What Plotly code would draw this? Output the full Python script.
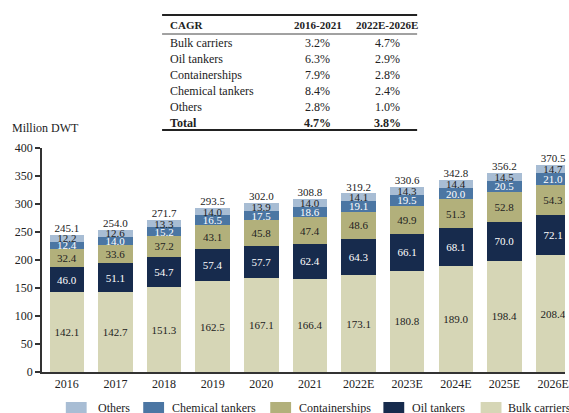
import plotly.graph_objects as go

years = ["2016", "2017", "2018", "2019", "2020", "2021", "2022E", "2023E", "2024E", "2025E", "2026E"]
bulk = [142.1, 142.7, 151.3, 162.5, 167.1, 166.4, 173.1, 180.8, 189.0, 198.4, 208.4]
oil = [46.0, 51.1, 54.7, 57.4, 57.7, 62.4, 64.3, 66.1, 68.1, 70.0, 72.1]
container = [32.4, 33.6, 37.2, 43.1, 45.8, 47.4, 48.6, 49.9, 51.3, 52.8, 54.3]
chemical = [12.4, 14.0, 15.2, 16.5, 17.5, 18.6, 19.1, 19.5, 20.0, 20.5, 21.0]
others = [12.2, 12.6, 13.3, 14.0, 13.9, 14.0, 14.1, 14.3, 14.4, 14.5, 14.7]
totals = [245.1, 254.0, 271.7, 293.5, 302.0, 308.8, 319.2, 330.6, 342.8, 356.2, 370.5]

table_rows = ["Bulk carriers", "Oil tankers", "Containerships", "Chemical tankers", "Others", "Total"]
cagr_1621 = ["3.2%", "6.3%", "7.9%", "8.4%", "2.8%", "4.7%"]
cagr_2226 = ["4.7%", "2.9%", "2.8%", "2.4%", "1.0%", "3.8%"]

FONT = "Liberation Serif"
W, H = 569, 413
L, R, T, B = 42, 0, 148, 41

colors = {
    "Bulk carriers": "#d6d6b6",
    "Oil tankers": "#172b4d",
    "Containerships": "#b2b07b",
    "Chemical tankers": "#4b76a3",
    "Others": "#a8bdd4",
}
textcol = {
    "Bulk carriers": "#222222",
    "Oil tankers": "#ffffff",
    "Containerships": "#222222",
    "Chemical tankers": "#ffffff",
    "Others": "#222222",
}

series = [("Bulk carriers", bulk), ("Oil tankers", oil), ("Containerships", container),
          ("Chemical tankers", chemical), ("Others", others)]

fig = go.Figure()
for name, vals in series:
    fig.add_trace(go.Bar(
        x=years, y=vals, name=name, marker=dict(color=colors[name], line=dict(width=0)),
        text=[f"{v:.1f}" for v in vals], textposition="inside", insidetextanchor="middle",
        textangle=0, textfont=dict(family=FONT, size=11, color=textcol[name]),
        width=0.71, showlegend=False,
    ))

fig.add_trace(go.Scatter(
    x=years, y=totals, mode="text", text=[f"{v:.1f}" for v in totals],
    textposition="top center", textfont=dict(family=FONT, size=11, color="#222222"),
    showlegend=False, cliponaxis=False,
))

def px_x(px):
    return (px - L) / (W - L - R)

def px_y(py):
    return (H - B - py) / (H - T - B)

shapes = []
annotations = []

# legend (manual)
legend_items = [("Others", 66, 87, 96), ("Chemical tankers", 144, 165, 171),
                ("Containerships", 272, 293, 299), ("Oil tankers", 386, 407, 413),
                ("Bulk carriers", 484, 505, 510)]
for name, x0, x1, tx in legend_items:
    shapes.append(dict(type="rect", xref="paper", yref="paper",
                       x0=px_x(x0), x1=px_x(x1), y0=px_y(414), y1=px_y(402),
                       fillcolor=colors[name], line=dict(width=0), layer="above"))
    annotations.append(dict(xref="paper", yref="paper", x=px_x(tx), y=px_y(408),
                            text=name, showarrow=False, xanchor="left", yanchor="middle",
                            font=dict(family=FONT, size=12, color="#222222")))

# table
tx0, tx1 = 163, 420
shapes.append(dict(type="line", xref="paper", yref="paper", x0=px_x(tx0), x1=px_x(tx1),
                   y0=px_y(15), y1=px_y(15), line=dict(color="#222222", width=2)))
shapes.append(dict(type="line", xref="paper", yref="paper", x0=px_x(tx0), x1=px_x(tx1),
                   y0=px_y(34), y1=px_y(34), line=dict(color="#444444", width=1)))
shapes.append(dict(type="line", xref="paper", yref="paper", x0=px_x(tx0), x1=px_x(tx1),
                   y0=px_y(130), y1=px_y(130), line=dict(color="#222222", width=2)))

c1, c2, labx = 320, 390, 169
hdr_y = 25
for txt, x, anc in [("<b>CAGR</b>", labx, "left"), ("<b>2016-2021</b>", c1, "center"),
                    ("<b>2022E-2026E</b>", c2, "center")]:
    annotations.append(dict(xref="paper", yref="paper", x=px_x(x), y=px_y(hdr_y), text=txt,
                            showarrow=False, xanchor=anc, yanchor="middle",
                            font=dict(family=FONT, size=11, color="#222222")))
row_ys = [43, 59, 75, 91, 107, 123]
for i, (lab, a, b) in enumerate(zip(table_rows, cagr_1621, cagr_2226)):
    bold = lab == "Total"
    f = (lambda s: f"<b>{s}</b>") if bold else (lambda s: s)
    for txt, x, anc in [(f(lab), labx, "left"), (f(a), c1, "center"), (f(b), c2, "center")]:
        annotations.append(dict(xref="paper", yref="paper", x=px_x(x), y=px_y(row_ys[i]),
                                text=txt, showarrow=False, xanchor=anc, yanchor="middle",
                                font=dict(family=FONT, size=12, color="#222222")))

annotations.append(dict(xref="paper", yref="paper", x=px_x(10), y=px_y(128), text="Million DWT",
                        showarrow=False, xanchor="left", yanchor="middle",
                        font=dict(family=FONT, size=12, color="#222222")))

fig.update_layout(
    width=W, height=H, margin=dict(l=L, r=R, t=T, b=B),
    barmode="stack", plot_bgcolor="white", paper_bgcolor="white",
    font=dict(family=FONT, size=12, color="#222222"),
    shapes=shapes, annotations=annotations,
    uniformtext=dict(minsize=11, mode="show"),
    showlegend=False,
)
fig.update_xaxes(range=[-0.51, 10.245], showline=True, linecolor="#333333", linewidth=1.5,
                 ticks="", showgrid=False, tickfont=dict(family=FONT, size=12, color="#222222"),
                 zeroline=False)
fig.update_yaxes(range=[0, 400], tickvals=[0, 50, 100, 150, 200, 250, 300, 350, 400],
                 showline=True, linecolor="#333333", linewidth=1.5, ticks="outside", ticklen=5,
                 tickcolor="#333333", tickwidth=1.5, showgrid=False, zeroline=False,
                 tickfont=dict(family=FONT, size=12, color="#222222"))

fig.write_html("out.html")
